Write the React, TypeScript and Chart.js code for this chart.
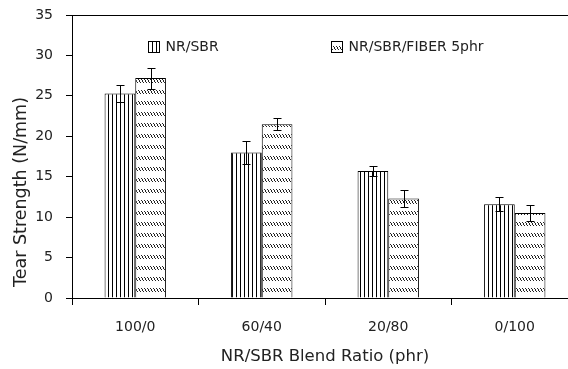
import React, { useEffect, useRef } from "react";
import { Chart, registerables } from "chart.js";

Chart.register(...registerables);

const categories = ["100/0", "60/40", "20/80", "0/100"];
const seriesLabels = ["NR/SBR", "NR/SBR/FIBER 5phr"];
const nrsbr = [25.3, 18.0, 15.7, 11.6];
const nrsbrErr = [1.0, 1.4, 0.6, 0.85];
const fiber = [27.2, 21.5, 12.3, 10.5];
const fiberErr = [1.3, 0.7, 1.1, 1.0];
const yTicks = [0, 5, 10, 15, 20, 25, 30, 35];
const xTitle = "NR/SBR Blend Ratio (phr)";
const yTitle = "Tear Strength (N/mm)";

const FONT = "'DejaVu Sans', sans-serif";

function makeVertical(): CanvasPattern | string {
  const c = document.createElement("canvas");
  c.width = 4;
  c.height = 4;
  const g = c.getContext("2d");
  if (!g) return "#fff";
  g.fillStyle = "#fff";
  g.fillRect(0, 0, 4, 4);
  g.strokeStyle = "#000";
  g.lineWidth = 1;
  g.beginPath();
  g.moveTo(0.5, 0);
  g.lineTo(0.5, 4);
  g.stroke();
  return g.createPattern(c, "repeat") || "#fff";
}

function makeDiagonal(): CanvasPattern | string {
  const c = document.createElement("canvas");
  c.width = 3;
  c.height = 11;
  const g = c.getContext("2d");
  if (!g) return "#fff";
  g.fillStyle = "#fff";
  g.fillRect(0, 0, 3, 11);
  g.fillStyle = "#222";
  // short "\" stroke, 4px tall
  g.fillRect(0, 2, 1, 1);
  g.fillRect(1, 3, 1, 1);
  g.fillRect(1, 4, 1, 1);
  g.fillRect(2, 5, 1, 1);
  return g.createPattern(c, "repeat") || "#fff";
}

export default function App() {
  const ref = useRef<HTMLCanvasElement | null>(null);
  useEffect(() => {
    document.body.style.overflow = "hidden";
    const canvas = ref.current;
    if (!canvas) return;
    const pats = [makeVertical(), makeDiagonal()];
    const errs = [nrsbrErr, fiberErr];

    const extras = {
      id: "extras",
      afterDatasetsDraw(chart: any) {
        const ctx = chart.ctx;
        const y = chart.scales.y;
        ctx.save();
        ctx.strokeStyle = "#000";
        ctx.lineWidth = 1;
        chart.data.datasets.forEach((ds: any, i: number) => {
          const meta = chart.getDatasetMeta(i);
          meta.data.forEach((bar: any, j: number) => {
            const v = ds.data[j];
            const e = errs[i][j];
            const x = Math.round(bar.x) + 0.5;
            const yt = Math.round(y.getPixelForValue(v + e)) + 0.5;
            const yb = Math.round(y.getPixelForValue(v - e)) + 0.5;
            ctx.beginPath();
            ctx.moveTo(x, yt);
            ctx.lineTo(x, yb);
            ctx.moveTo(x - 4, yt);
            ctx.lineTo(x + 4, yt);
            ctx.moveTo(x - 4, yb);
            ctx.lineTo(x + 4, yb);
            ctx.stroke();
          });
        });
        ctx.restore();
      },
      afterDraw(chart: any) {
        const ctx = chart.ctx;
        const a = chart.chartArea;
        ctx.save();
        // top frame line
        ctx.strokeStyle = "#000";
        ctx.lineWidth = 1;
        ctx.beginPath();
        ctx.moveTo(a.left, Math.round(a.top) + 0.5);
        ctx.lineTo(a.right, Math.round(a.top) + 0.5);
        ctx.stroke();
        // legend
        const offs = [76, 259];
        ctx.font = "14px " + FONT;
        ctx.textBaseline = "middle";
        chart.data.datasets.forEach((ds: any, i: number) => {
          const bx = Math.round(a.left + offs[i]) + 0.5;
          const by = Math.round(a.top + 26) + 0.5;
          ctx.fillStyle = pats[i];
          ctx.fillRect(bx, by, 11, 11);
          ctx.strokeStyle = "#000";
          ctx.strokeRect(bx, by, 11, 11);
          ctx.fillStyle = "#222";
          ctx.textAlign = "left";
          ctx.fillText(ds.label, bx + 17, by + 6);
        });
        // y title
        ctx.translate(21, (a.top + chart.height) / 2);
        ctx.rotate(-Math.PI / 2);
        ctx.font = "17.5px " + FONT;
        ctx.textAlign = "center";
        ctx.textBaseline = "middle";
        ctx.fillStyle = "#222";
        ctx.fillText(yTitle, 0, 0);
        ctx.restore();
      },
    };

    const chart = new Chart(canvas, {
      type: "bar",
      data: {
        labels: categories,
        datasets: [
          {
            label: seriesLabels[0],
            data: nrsbr,
            backgroundColor: pats[0] as any,
            borderColor: "#000",
            borderWidth: 1,
            borderSkipped: "bottom",
          },
          {
            label: seriesLabels[1],
            data: fiber,
            backgroundColor: pats[1] as any,
            borderColor: "#000",
            borderWidth: 1,
            borderSkipped: "bottom",
          },
        ],
      },
      options: {
        responsive: false,
        animation: false,
        events: [],
        layout: { padding: { top: 15, left: 0, right: 0, bottom: 0 } },
        datasets: {
          bar: { categoryPercentage: 0.485, barPercentage: 1 },
        },
        plugins: {
          legend: { display: false },
          tooltip: { enabled: false },
        },
        scales: {
          x: {
            grid: {
              display: true,
              drawOnChartArea: false,
              drawTicks: true,
              tickLength: 7,
              color: "#000",
              offset: true,
            },
            border: { display: true, color: "#000", width: 1 },
            ticks: {
              color: "#222",
              font: { family: FONT, size: 14 },
              padding: 14,
            },
            title: {
              display: true,
              text: xTitle,
              color: "#222",
              font: { family: FONT, size: 16.5 },
              padding: { top: 0, bottom: 2 },
            },
            afterFit(scale: any) {
              scale.height = 71;
              scale.paddingLeft = 0;
              scale.paddingRight = 0;
            },
          },
          y: {
            min: 0,
            max: 35,
            afterBuildTicks(scale: any) {
              scale.ticks = yTicks.map((v) => ({ value: v }));
            },
            grid: {
              display: true,
              drawOnChartArea: false,
              drawTicks: true,
              tickLength: 6,
              color: "#000",
            },
            border: { display: true, color: "#000", width: 1 },
            ticks: {
              color: "#222",
              font: { family: FONT, size: 14 },
              padding: 13,
            },
            afterFit(scale: any) {
              scale.width = 72;
              scale.paddingTop = 0;
              scale.paddingBottom = 0;
            },
          },
        },
      },
      plugins: [extras],
    });
    return () => chart.destroy();
  }, []);

  return (
    <div style={{ position: "absolute", left: 0, top: 0, width: 578, height: 369 }}>
      <canvas ref={ref} width={578} height={369} />
    </div>
  );
}
